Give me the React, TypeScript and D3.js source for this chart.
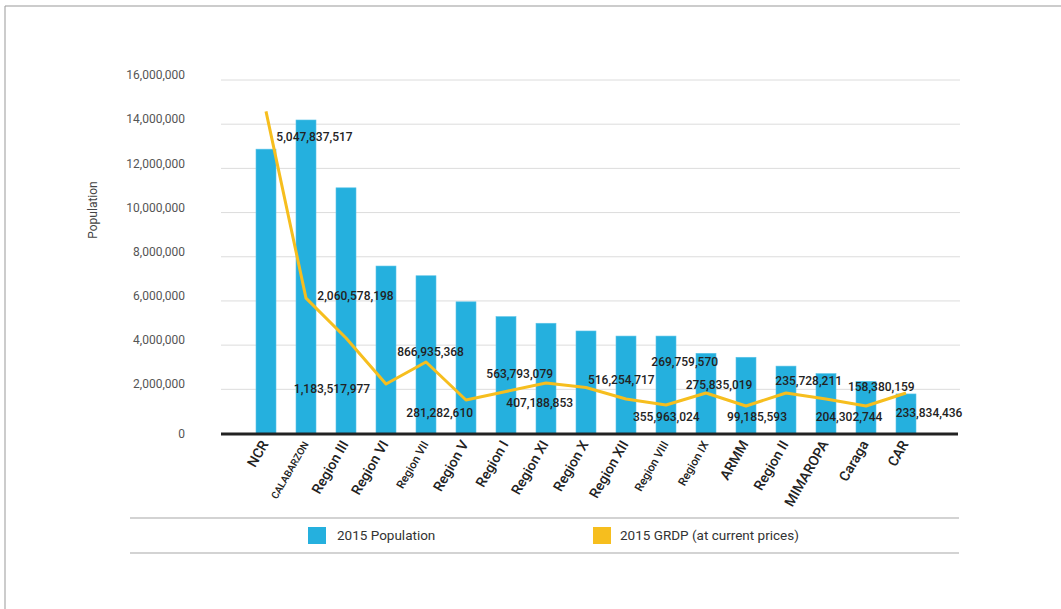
import React from "react";
import * as d3 from "d3";

const categories = [
  "NCR", "CALABARZON", "Region III", "Region VI", "Region VII", "Region V",
  "Region I", "Region XI", "Region X", "Region XII", "Region VIII", "Region IX",
  "ARMM", "Region II", "MIMAROPA", "Caraga", "CAR",
];
const population = [
  12870000, 14190000, 11120000, 7580000, 7140000, 5960000, 5290000, 4990000,
  4640000, 4410000, 4410000, 3630000, 3450000, 3050000, 2710000, 2360000, 1790000,
];
// GRDP line values (hidden secondary axis)
const grdp = [
  5047837517, 2060578198, 1424000000, 688000000, 1040000000, 432000000,
  568000000, 704000000, 632000000, 448000000, 352000000, 544000000,
  336000000, 544000000, 448000000, 336000000, 544000000,
];
const grdpLabels = [
  "5,047,837,517", "2,060,578,198", "1,183,517,977", "866,935,368", "281,282,610",
  "563,793,079", "407,188,853", "516,254,717", "355,963,024", "269,759,570",
  "275,835,019", "99,185,593", "235,728,211", "204,302,744", "158,380,159", "233,834,436",
];
const yTicks = [0, 2000000, 4000000, 6000000, 8000000, 10000000, 12000000, 14000000, 16000000];
const smallLabels = ["CALABARZON", "Region VII", "Region VIII", "Region IX"];
const seriesNames = ["2015 Population", "2015 GRDP (at current prices)"];

// layout of data labels: anchor category index, x/y offsets from the line point
const labelLayout: [number, number, number][] = [
  [0, 48.5, 30], [1, 49.5, 2], [2, -14, 55], [4, 4.5, -5.5], [5, -26.3, 17],
  [6, 13.7, -13.5], [7, -6.3, 24.5], [8, 35.3, -3.5], [10, 0.3, 16], [11, -21.3, -26.5],
  [11, 13, -4], [12, 11, 15], [13, 22.7, -8], [14, 23, 22], [15, 15.3, -14.5], [16, 23, 24],
];

const W = 1061, H = 609;
const BLUE = "#25b0de";
const YELLOW = "#f6be1e";
const FONT = "Roboto, 'Noto Sans', sans-serif";

export default function App() {
  const x = d3.scaleBand<string>().domain(categories).range([246, 926]).paddingInner(0.5).paddingOuter(0.25);
  const y = d3.scaleLinear().domain([0, 16000000]).range([433.5, 80]);
  const y2 = d3.scaleLinear().domain([0, 5.55e9]).range([427, 80]);
  const cx = (c: string) => (x(c) as number) + x.bandwidth() / 2;
  const fmt = d3.format(",");
  const line = d3.line<number>().x((_, i) => cx(categories[i])).y((d) => y2(d));

  return (
    <svg width={W} height={H} style={{ position: "absolute", left: 0, top: 0, background: "#fff" }} fontFamily={FONT}>
      <line x1={5} y1={6} x2={W} y2={6} stroke="#999" strokeWidth={1} />
      <line x1={5} y1={6} x2={5} y2={H} stroke="#999" strokeWidth={1} />

      {yTicks.map((t) => (
        <g key={t}>
          {t > 0 && <line x1={221} x2={960} y1={y(t)} y2={y(t)} stroke="#dcdcdc" strokeWidth={1} />}
          <text x={185} y={t === 0 ? y(t) + 1 : y(t) - 4} textAnchor="end" dominantBaseline="middle" fontSize={12} fill="#555">
            {fmt(t)}
          </text>
        </g>
      ))}
      <text transform="translate(97,210) rotate(-90)" textAnchor="middle" fontSize={12} fill="#444">Population</text>

      {categories.map((c, i) => (
        <rect key={c} x={x(c)} y={y(population[i])} width={x.bandwidth()} height={y(0) - y(population[i])}
          fill={BLUE} stroke="#5cc4e8" strokeWidth={0.6} />
      ))}

      <line x1={221} x2={958} y1={434} y2={434} stroke="#222" strokeWidth={3} />

      <path d={line(grdp) || ""} fill="none" stroke={YELLOW} strokeWidth={3} strokeLinejoin="round" />

      {labelLayout.map(([ci, dx, dy], k) => (
        <text key={k} x={cx(categories[ci]) + dx} y={y2(grdp[ci]) + dy} textAnchor="middle"
          fontSize={12} fontWeight={500} fill="#222">
          {grdpLabels[k]}
        </text>
      ))}

      {categories.map((c) => (
        <text key={c} transform={`translate(${cx(c) + 3},444) rotate(-60)`} textAnchor="end"
          fontSize={smallLabels.includes(c) ? (c === "CALABARZON" ? 10 : 11.5) : 14}
          fontWeight={500} fill="#222">
          {c}
        </text>
      ))}

      <line x1={130} x2={959} y1={518} y2={518} stroke="#c4c4c4" strokeWidth={1.5} />
      <line x1={130} x2={959} y1={553} y2={553} stroke="#c4c4c4" strokeWidth={1.5} />
      <rect x={308} y={527} width={18} height={17} fill={BLUE} />
      <text x={337} y={536} dominantBaseline="middle" fontSize={13.5} fill="#333">{seriesNames[0]}</text>
      <rect x={593} y={527} width={18} height={17} fill={YELLOW} />
      <text x={620} y={536} dominantBaseline="middle" fontSize={13.5} fill="#333">{seriesNames[1]}</text>
    </svg>
  );
}
